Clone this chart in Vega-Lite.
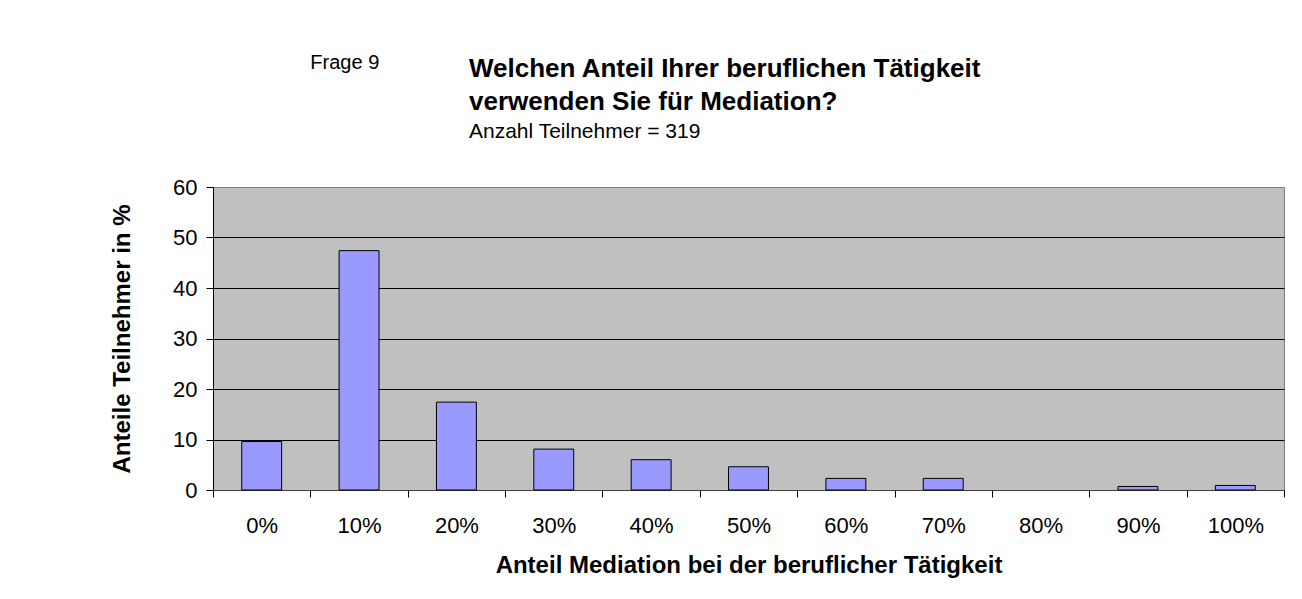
{
  "$schema": "https://vega.github.io/schema/vega-lite/v6.json",
  "width": 1071,
  "height": 303,
  "autosize": {"type": "none"},
  "padding": {"left": 213, "top": 187, "right": 18, "bottom": 109},
  "background": "white",
  "title": {
    "text": ["Welchen Anteil Ihrer beruflichen Tätigkeit", "verwenden Sie für Mediation?"],
    "subtitle": "Anzahl Teilnehmer = 319",
    "anchor": "start",
    "frame": "group",
    "dx": 256,
    "offset": -89,
    "font": "Liberation Sans",
    "fontSize": 26,
    "fontWeight": "bold",
    "color": "black",
    "lineHeight": 33,
    "subtitleFont": "Liberation Sans",
    "subtitleFontSize": 21,
    "subtitleColor": "black",
    "subtitlePadding": 6
  },
  "config": {
    "view": {"fill": "#C0C0C0", "stroke": "#808080", "strokeWidth": 1},
    "font": "Liberation Sans"
  },
  "layer": [
    {
      "data": {
        "values": [
          {"kategorie": "0%", "anteil": 9.6},
          {"kategorie": "10%", "anteil": 47.4},
          {"kategorie": "20%", "anteil": 17.4},
          {"kategorie": "30%", "anteil": 8.1},
          {"kategorie": "40%", "anteil": 6.0},
          {"kategorie": "50%", "anteil": 4.6},
          {"kategorie": "60%", "anteil": 2.3},
          {"kategorie": "70%", "anteil": 2.3},
          {"kategorie": "80%", "anteil": 0},
          {"kategorie": "90%", "anteil": 0.7},
          {"kategorie": "100%", "anteil": 0.9}
        ]
      },
      "mark": {"type": "bar", "fill": "#9999FF", "strokeWidth": 1, "width": {"band": 0.41}},
      "encoding": {
        "x": {
          "field": "kategorie",
          "type": "nominal",
          "sort": null,
          "scale": {"domain": ["0%", "10%", "20%", "30%", "40%", "50%", "60%", "70%", "80%", "90%", "100%"], "paddingInner": 0, "paddingOuter": 0},
          "axis": {
            "tickBand": "extent",
            "labelAngle": 0,
            "tickSize": 7,
            "tickColor": "black",
            "domainColor": "#404040",
            "labelFontSize": 22,
            "labelColor": "black",
            "labelPadding": 18,
            "title": "Anteil Mediation bei der beruflicher Tätigkeit",
            "titleFontSize": 24,
            "titleFontWeight": "bold",
            "titleColor": "black",
            "titlePadding": 17
          }
        },
        "y": {
          "field": "anteil",
          "type": "quantitative",
          "scale": {"domain": [0, 60]},
          "axis": {
            "values": [0, 10, 20, 30, 40, 50, 60],
            "grid": true,
            "gridColor": {"condition": {"test": "datum.value == 60", "value": "#808080"}, "value": "black"},
            "domainColor": "black",
            "tickColor": "black",
            "tickSize": 7,
            "labelFontSize": 22,
            "labelColor": "black",
            "labelPadding": 9,
            "title": "Anteile Teilnehmer in %",
            "titleFontSize": 24,
            "titleFontWeight": "bold",
            "titleColor": "black",
            "titlePadding": 38
          }
        },
        "stroke": {"condition": {"test": "datum.anteil == 0", "value": "transparent"}, "value": "black"}
      }
    },
    {
      "data": {"values": [{"t": "Frage 9"}]},
      "mark": {"type": "text", "align": "left", "baseline": "alphabetic", "fontSize": 20, "font": "Liberation Sans", "color": "black"},
      "encoding": {
        "x": {"datum": "10%", "bandPosition": 0},
        "y": {"datum": 83.4},
        "text": {"field": "t"}
      }
    }
  ]
}
